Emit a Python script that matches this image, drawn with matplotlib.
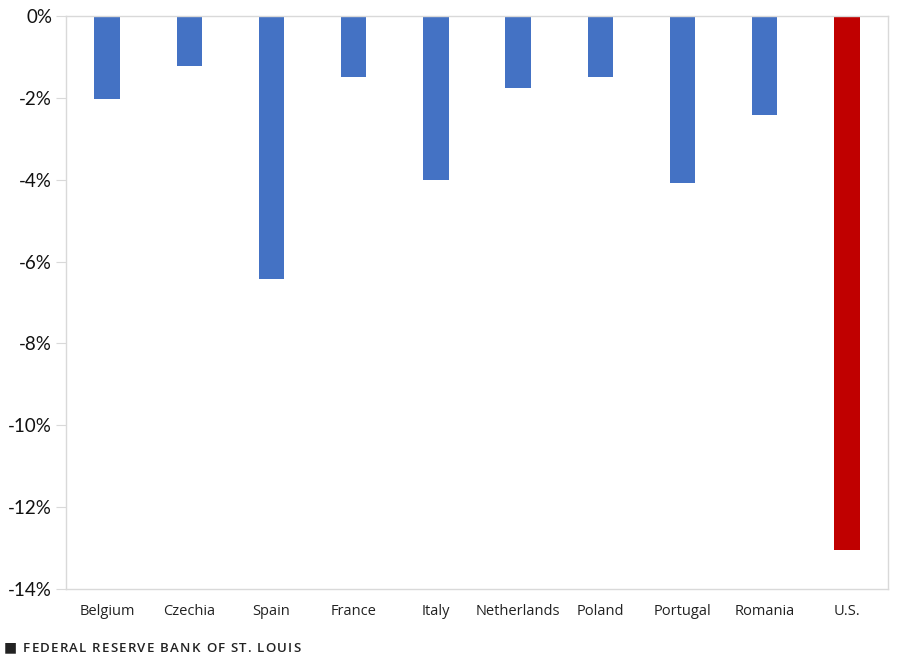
import numpy as np
import matplotlib.pyplot as plt
from matplotlib.ticker import FuncFormatter

countries = ['Belgium', 'Czechia', 'Spain', 'France', 'Italy',
             'Netherlands', 'Poland', 'Portugal', 'Romania', 'U.S.']
change_pct = [-2.02, -1.23, -6.42, -1.50, -4.00, -1.75, -1.50, -4.07, -2.42, -13.05]
bar_colors = ['#4472C4'] * 9 + ['#C00000']
yticks = [0, -2, -4, -6, -8, -10, -12, -14]
footer = 'FEDERAL RESERVE BANK OF ST. LOUIS'

fig = plt.figure(figsize=(9.1, 6.6), dpi=100)
ax = fig.add_axes([0.0725, 0.1076, 0.9033, 0.8682])

x = np.arange(len(countries))
ax.bar(x, change_pct, width=0.31, color=bar_colors, zorder=2)

ax.set_xlim(-0.5, len(countries) - 0.5)
ax.set_ylim(-14, 0)
ax.set_yticks(yticks)
ax.yaxis.set_major_formatter(FuncFormatter(lambda v, p: '%d%%' % v))
ax.set_xticks(x)
ax.set_xticklabels(countries, fontsize=10.5, family='Open Sans', color='#222222')
for lab in ax.get_yticklabels():
    lab.set_fontsize(13.5)
    lab.set_family('Lato')
    lab.set_color('#111111')

for s in ax.spines.values():
    s.set_color('#d9d9d9')
    s.set_linewidth(1)
ax.tick_params(axis='y', length=7, color='#d9d9d9', pad=3)
ax.tick_params(axis='x', length=0, pad=11)

# footer with letter spacing, drawn char by char
fig.text(0.004, 0.008, '\u25A0', fontsize=10, color='#222222', va='bottom')
renderer = fig.canvas.get_renderer()
xpos = 23
for ch in footer:
    t = fig.text(xpos / 910, 0.008, ch, fontsize=9.5, family='Open Sans',
                 weight='semibold', color='#222222', va='bottom')
    w = t.get_window_extent(renderer).width if ch != ' ' else 3.5
    xpos += w + 1.2

fig.savefig('out.png', dpi=100)
